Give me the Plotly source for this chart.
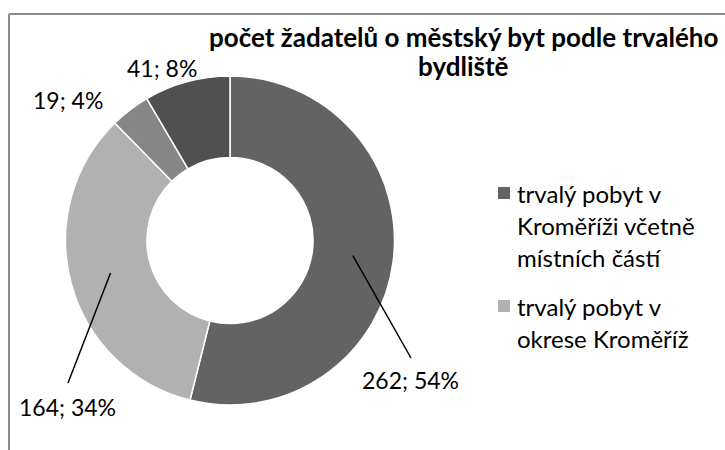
import math
import plotly.graph_objects as go

# ---- data ----
categories = [
    "trvalý pobyt v Kroměříži včetně místních částí",
    "trvalý pobyt v okrese Kroměříž",
    "trvalý pobyt mimo okres Kroměříž",
    "bez trvalého pobytu",
]
values = [262, 164, 19, 41]
colors = ["#636363", "#b1b1b1", "#868686", "#505050"]
title_lines = ["počet žadatelů o městský byt podle trvalého", "bydliště"]
legend_lines = [
    ["trvalý pobyt v", "Kroměříži včetně", "místních částí"],
    ["trvalý pobyt v", "okrese Kroměříž"],
]

W, H = 725, 450
FONT = "Lato, Carlito, Calibri, sans-serif"

def px(x):
    return x / W

def py(y):
    return 1 - y / H

# donut geometry (pixels)
CX, CY, R = 230, 240.5, 164.5
HOLE = 0.505

fig = go.Figure()
fig.add_trace(go.Pie(
    labels=categories,
    values=values,
    marker=dict(colors=colors, line=dict(color="white", width=1.5)),
    hole=HOLE,
    sort=False,
    direction="clockwise",
    rotation=0,
    textinfo="none",
    hoverinfo="label+value+percent",
    showlegend=False,
    domain=dict(x=[px(CX - R), px(CX + R)], y=[py(CY + R), py(CY - R)]),
))

total = sum(values)
cum = 0
shapes = []
annotations = []
# label placement per slice: (leader end px or None, label centre px)
label_place = [
    ((411, 358), (410, 380)),
    ((68, 383), (67, 407)),
    (None, (68, 100)),
    (None, (162, 68)),
]
for i, v in enumerate(values):
    mid = (cum + v / 2) / total
    cum += v
    ang = 2 * math.pi * mid
    rmid = R * (1 + HOLE) / 2
    sx = CX + rmid * math.sin(ang)
    sy = CY - rmid * math.cos(ang)
    end, lab = label_place[i]
    if end is not None:
        shapes.append(dict(type="line", xref="paper", yref="paper",
                           x0=px(sx), y0=py(sy), x1=px(end[0]), y1=py(end[1]),
                           line=dict(color="black", width=1.5)))
    pct = round(100 * v / total)
    annotations.append(dict(text=f"{v}; {pct}%", xref="paper", yref="paper",
                            x=px(lab[0]), y=py(lab[1]), xanchor="center", yanchor="middle",
                            showarrow=False, font=dict(family=FONT, size=23, color="black")))

# title
for j, (ln, ty) in enumerate(zip(title_lines, [37, 66])):
    annotations.append(dict(text=f"<b>{ln}</b>", xref="paper", yref="paper",
                            x=px(463), y=py(ty), xanchor="center", yanchor="middle", showarrow=False,
                            font=dict(family=FONT, size=26, color="black")))

# legend (manual, first two entries visible)
leg_y = [193, 306]
for k, lines in enumerate(legend_lines):
    y0 = leg_y[k]
    shapes.append(dict(type="rect", xref="paper", yref="paper",
                       x0=px(498), x1=px(510), y0=py(y0 - 6), y1=py(y0 + 6),
                       fillcolor=colors[k], line=dict(width=0)))
    for j, ln in enumerate(lines):
        annotations.append(dict(text=ln, xref="paper", yref="paper",
                                x=px(515), y=py(y0 + 32 * j), xanchor="left", yanchor="middle",
                                showarrow=False, font=dict(family=FONT, size=24, color="black")))

# chart frame (partially visible)
shapes.append(dict(type="line", xref="paper", yref="paper", x0=px(9), y0=py(14), x1=px(W + 5), y1=py(14),
                   line=dict(color="#8c8c8c", width=2)))
shapes.append(dict(type="line", xref="paper", yref="paper", x0=px(9), y0=py(14), x1=px(9), y1=py(H + 5),
                   line=dict(color="#8c8c8c", width=2)))

fig.update_layout(
    width=W, height=H,
    margin=dict(l=0, r=0, t=0, b=0),
    paper_bgcolor="white",
    plot_bgcolor="white",
    shapes=shapes,
    annotations=annotations,
    font=dict(family=FONT),
)

fig.write_html("out.html", config={"displayModeBar": False},
               post_script="document.body.style.margin='0';document.body.style.overflow='hidden';")
